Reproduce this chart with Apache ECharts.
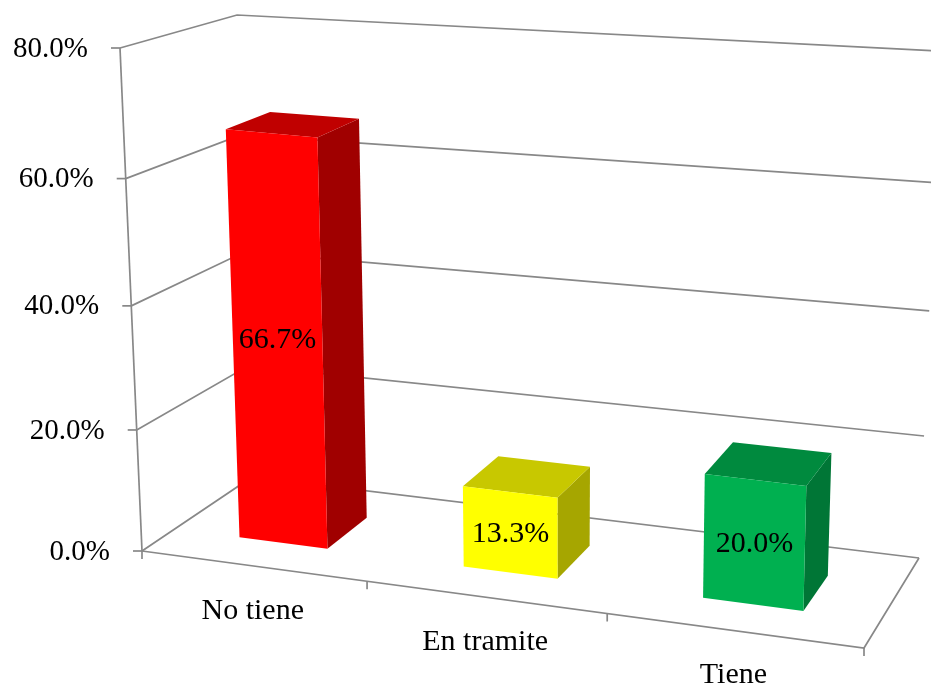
<!DOCTYPE html>
<html>
<head>
<meta charset="utf-8">
<script src="https://cdn.jsdelivr.net/npm/echarts@6/dist/echarts.min.js"></script>
<style>
  html, body { margin: 0; padding: 0; background: #ffffff; }
  #chart { width: 931px; height: 684px; }
</style>
</head>
<body>
<div id="chart"></div>
<script>
// ---- data ----
const categories = ['No tiene', 'En tramite', 'Tiene'];
const shares = [66.7, 13.3, 20.0];
const yTicks = [0, 20, 40, 60, 80];

// ---- look ----
const FRONT = ['#FF0000', '#FFFF00', '#00B050'];
const TOP = ['#C00000', '#C8C800', '#008A3E'];
const SIDE = ['#A00000', '#A6A600', '#007636'];
const LINE = '#888888';
const FONT = '"Liberation Serif", "Times New Roman", serif';

// Screen position of the 8 corners of the plot box: key = u v w (w = depth, 0 front).
const BOX = {
  '000': [142, 551], '100': [864, 648], '001': [252, 477], '101': [919, 558],
  '010': [120, 48],  '110': [878, 119], '011': [237, 15],  '111': [940, 51]
};
// Perspective foreshortening along the axes.
function warp(t, r) { return t / (t + (1 - t) * r); }
function project(u, v, w) {
  const U = warp(u, 1.104), V = warp(v, 1.052), W = w;
  const out = [0, 0];
  for (let a = 0; a < 2; a++) for (let b = 0; b < 2; b++) for (let c = 0; c < 2; c++) {
    const k = (a ? U : 1 - U) * (b ? V : 1 - V) * (c ? W : 1 - W);
    const p = BOX['' + a + b + c];
    out[0] += k * p[0]; out[1] += k * p[1];
  }
  return out;
}
// The hidden cartesian grid acts as the unit scales of the box (u across, v up).
function unitU(params, px) { const cs = params.coordSys; return (px - cs.x) / cs.width; }
function unitV(params, py) { const cs = params.coordSys; return (cs.y + cs.height - py) / cs.height; }
function unitBand(params, w) { return w / params.coordSys.width; }

const chart = echarts.init(document.getElementById('chart'), null, { renderer: 'canvas' });

const DEPTH_FRONT = 0.3, DEPTH_BACK = 0.7, BAR_FRACTION = 0.4;

function renderGridline(params, api) {
  const tick = api.value(1);
  const v = unitV(params, api.coord([0, tick])[1]);
  const a = project(0, v, 0), b = project(0, v, 1), c = project(1, v, 1);
  return {
    type: 'group',
    children: [
      { type: 'polyline', shape: { points: [a, b, c] },
        style: { stroke: LINE, lineWidth: 1.7, fill: null } },
      { type: 'line', shape: { x1: a[0] - 9, y1: a[1], x2: a[0], y2: a[1] },
        style: { stroke: LINE, lineWidth: 1.7 } },
      { type: 'text', x: a[0] - 32, y: a[1] + 1,
        style: { text: tick.toFixed(1) + '%', font: '29px ' + FONT, fill: '#000',
                 align: 'right', verticalAlign: 'middle' } }
    ]
  };
}

function renderCategory(params, api) {
  const i = api.value(0);
  const band = unitBand(params, api.size([1, 0])[0]);
  const uc = unitU(params, api.coord([i, 0])[0]);
  const u0 = uc - band / 2, u1 = uc + band / 2;
  const children = [];
  const tickAt = function (u) {
    const p = project(u, 0, 0);
    children.push({ type: 'line', shape: { x1: p[0], y1: p[1], x2: p[0], y2: p[1] + 8 },
      style: { stroke: LINE, lineWidth: 1.7 } });
  };
  tickAt(u0);
  if (i === categories.length - 1) tickAt(u1);
  const pe = project(uc, 0, 0);
  children.push({ type: 'text', x: pe[0], y: pe[1] + 45,
    style: { text: categories[i], font: '30px ' + FONT, fill: '#000',
             align: 'center', verticalAlign: 'middle' } });
  return { type: 'group', children: children };
}

function renderFrame(params, api) {
  // front-left upright, front floor edge and right floor edge
  const vTop = unitV(params, api.coord([0, yTicks[yTicks.length - 1]])[1]);
  const v0 = unitV(params, api.coord([0, 0])[1]);
  return {
    type: 'group',
    children: [
      { type: 'polyline', shape: { points: [project(0, vTop, 0), project(0, v0, 0)] },
        style: { stroke: LINE, lineWidth: 1.7, fill: null } },
      { type: 'polyline', shape: { points: [project(0, v0, 0), project(1, v0, 0), project(1, v0, 1)] },
        style: { stroke: LINE, lineWidth: 1.7, fill: null } }
    ]
  };
}

function renderBar(params, api) {
  const i = api.value(0), val = api.value(1);
  const band = unitBand(params, api.size([1, 0])[0]);
  const top = api.coord([i, val]);
  const uc = unitU(params, top[0]);
  const vt = unitV(params, top[1]);
  const vb = unitV(params, api.coord([i, 0])[1]);
  const u0 = uc - band * BAR_FRACTION / 2, u1 = uc + band * BAR_FRACTION / 2;
  const w0 = DEPTH_FRONT, w1 = DEPTH_BACK;
  const f = [project(u0, vb, w0), project(u1, vb, w0), project(u1, vt, w0), project(u0, vt, w0)];
  const t = [project(u0, vt, w0), project(u1, vt, w0), project(u1, vt, w1), project(u0, vt, w1)];
  const s = [project(u1, vb, w0), project(u1, vb, w1), project(u1, vt, w1), project(u1, vt, w0)];
  const cx = (f[0][0] + f[1][0] + f[2][0] + f[3][0]) / 4;
  const cy = (f[0][1] + f[1][1] + f[2][1] + f[3][1]) / 4;
  return {
    type: 'group',
    children: [
      { type: 'polygon', shape: { points: s }, style: { fill: SIDE[i] } },
      { type: 'polygon', shape: { points: t }, style: { fill: TOP[i] } },
      { type: 'polygon', shape: { points: f }, style: { fill: FRONT[i] } },
      { type: 'text', x: cx, y: cy + 2,
        style: { text: val.toFixed(1) + '%', font: '30px ' + FONT, fill: '#000',
                 align: 'center', verticalAlign: 'middle' } }
    ]
  };
}

chart.setOption({
  animation: false,
  backgroundColor: '#ffffff',
  grid: { left: 0, top: 0, right: 0, bottom: 0, show: false },
  xAxis: { type: 'category', data: categories, show: false },
  yAxis: { type: 'value', min: 0, max: 80, interval: 20, show: false },
  series: [
    { type: 'custom', z: 1, renderItem: renderGridline, data: yTicks.map(function (t) { return [0, t]; }) },
    { type: 'custom', z: 1, renderItem: renderFrame, data: [[0, 0]] },
    { type: 'custom', z: 1, renderItem: renderCategory, data: categories.map(function (c, i) { return [i, 0]; }) },
    { type: 'custom', z: 3, renderItem: renderBar, data: shares.map(function (v, i) { return [i, v]; }) }
  ]
});
</script>
</body>
</html>
